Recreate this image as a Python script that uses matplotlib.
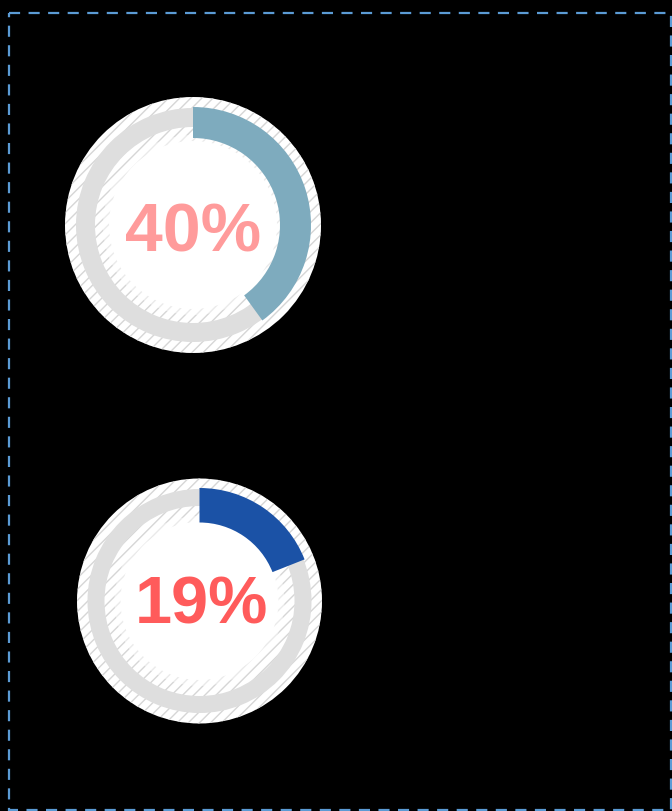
import matplotlib
matplotlib.use("Agg")
import matplotlib.pyplot as plt
from matplotlib.patches import Circle, Wedge, Rectangle

# data
values = [40, 19]
labels = ["40%", "19%"]
arc_colors = ["#7eabbe", "#1b52a6"]
text_colors = ["#ff9b9b", "#ff5b5b"]

# layout (pixel coordinates)
centers = [(193, 226), (199.5, 602)]
outer_r = [128, 122.5]
track = [(117, 98), (112, 95)]      # gray ring outer/inner radius
arc = [(118, 87), (113, 78.5)]       # coloured arc outer/inner radius
inner_white = [84, 79]
font_sizes = [49, 48]
baselines = [252, 624]
text_x = [193.5, 201]

plt.rcParams['hatch.linewidth'] = 1.0
fig = plt.figure(figsize=(6.72, 8.12), dpi=100, facecolor="black")
ax = fig.add_axes([0, 0, 1, 1])
ax.set_facecolor("black")
ax.set_xlim(0, 672)
ax.set_ylim(812, 0)
ax.set_aspect("equal")
ax.axis("off")

for i, (v, lab, ac, tc) in enumerate(zip(values, labels, arc_colors, text_colors)):
    cx, cy = centers[i]
    # hatched white disc
    ax.add_patch(Circle((cx, cy), outer_r[i], facecolor="white", edgecolor="#d6d6d6",
                        hatch="///", linewidth=0, zorder=1))
    # gray track ring
    ax.add_patch(Wedge((cx, cy), track[i][0], 0, 360, width=track[i][0] - track[i][1],
                       facecolor="#dedede", edgecolor="none", zorder=2))
    # soft fade then plain white inner disc
    ax.add_patch(Circle((cx, cy), inner_white[i] + 6, facecolor="white", edgecolor="none",
                        alpha=0.5, zorder=2))
    ax.add_patch(Circle((cx, cy), inner_white[i], facecolor="white", edgecolor="none", zorder=2))
    # value arc (clockwise from top; y axis inverted)
    ax.add_patch(Wedge((cx, cy), arc[i][0], 270, 270 + 360 * v / 100, width=arc[i][0] - arc[i][1],
                       facecolor=ac, edgecolor="none", zorder=3))
    ax.text(text_x[i], baselines[i], lab, ha="center", va="baseline", fontsize=font_sizes[i],
            fontweight="bold", color=tc, family=["Liberation Sans", "DejaVu Sans"], zorder=4)

# dashed border
ax.add_patch(Rectangle((9.3, 14), 661.7, 796.5, fill=False, edgecolor="#5b9bd5",
                       linewidth=1.6, linestyle=(0, (5.0, 3.8)), zorder=5, clip_on=False))

fig.savefig("out.png", dpi=100, facecolor="black")
